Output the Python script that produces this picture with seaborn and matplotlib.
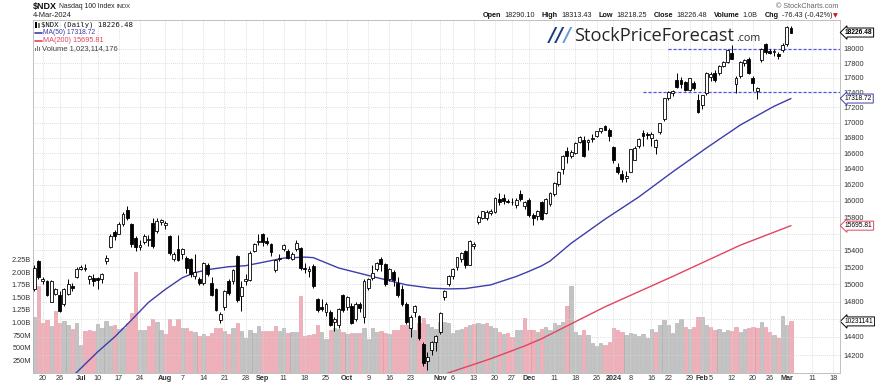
import numpy as np
import pandas as pd
import matplotlib
matplotlib.use("Agg")
import matplotlib.pyplot as plt
import matplotlib.transforms as mtrans
from matplotlib.patches import Rectangle
from matplotlib.lines import Line2D
from matplotlib.ticker import FixedLocator, NullLocator, NullFormatter, FuncFormatter
import seaborn as sns

W, H = 875, 385

# ---------------- data ----------------
holidays = ["2023-06-19", "2023-07-04", "2023-09-04", "2023-11-23",
            "2023-12-25", "2024-01-01", "2024-01-15", "2024-02-19"]

opens = [
    14950, 15270, 15035, 15040, 14800, 14890, 14875, 14775, 14890, 14985,
    15085, 15180, 15180, 15060, 15070, 15070, 15060, 15270, 15435, 15620,
    15600, 15720, 15890, 15714, 15550, 15440, 15495, 15520, 15733, 15630,
    15745, 15700, 15570, 15300, 15415, 15355, 15310, 15300, 15100, 15060,
    15010, 15230, 15020, 14946, 14590, 14740, 15040, 15035, 15335, 14860,
    15035, 15050, 15395, 15495, 15600, 15510, 15474, 15170, 15290, 15415,
    15395, 15300, 15414, 15425, 15190, 15150, 15210, 14831, 14740, 14680,
    14680, 14565, 14530, 14870, 14735, 14755, 14604, 14770, 14620, 14955,
    15070, 15178, 15290, 15235, 15060, 15140, 15010, 14946, 14775, 14500,
    14680, 14640, 14325, 14130, 14255, 14340, 14450, 14855, 15000, 15100,
    15200, 15300, 15390, 15230, 15450, 15735, 15795, 15790, 15850, 15860,
    16020, 16030, 16000, 15990, 15950, 16090, 15940, 16010, 15830, 15810,
    15980, 15855, 15960, 16080, 16205, 16393, 16625, 16560, 16605, 16740,
    16777, 16740, 16780, 16820, 16885, 16955, 16906, 16680, 16420, 16330,
    16282, 16365, 16520, 16690, 16865, 16850, 16800, 16680, 16880, 17040,
    17325, 17390, 17570, 17575, 17540, 17435, 17530, 17300, 17235, 17390,
    17610, 17660, 17660, 17760, 17815, 17940, 17510, 17620, 17800, 17850,
    17590, 17420, 17840, 18060, 17970, 17950, 17920, 17985, 18065, 18290.10,
]
highs = [
    15230, 15285, 15085, 15055, 15050, 14960, 14920, 14960, 15060, 15020,
    15200, 15230, 15240, 15110, 15120, 15090, 15130, 15340, 15590, 15640,
    15740, 15860, 15932, 15730, 15570, 15520, 15600, 15580, 15790, 15790,
    15780, 15750, 15580, 15380, 15580, 15430, 15330, 15310, 15355, 15090,
    15260, 15250, 15080, 14960, 14680, 14930, 15060, 15180, 15340, 15040,
    15120, 15390, 15490, 15590, 15610, 15560, 15490, 15290, 15350, 15480,
    15420, 15380, 15520, 15440, 15250, 15210, 15240, 14840, 14830, 14790,
    14700, 14630, 14730, 14890, 14860, 14780, 14790, 14800, 15060, 15070,
    15230, 15260, 15320, 15245, 15190, 15170, 15080, 14990, 14790, 14650,
    14760, 14650, 14340, 14230, 14350, 14420, 14680, 14930, 15110, 15190,
    15320, 15380, 15400, 15520, 15500, 15830, 15880, 15890, 15900, 16050,
    16100, 16080, 16020, 16030, 16030, 16130, 16000, 16030, 15850, 15890,
    16000, 16030, 16110, 16240, 16370, 16580, 16680, 16640, 16745, 16820,
    16830, 16780, 16850, 16890, 16930, 16970, 16930, 16700, 16480, 16390,
    16380, 16660, 16690, 16800, 16900, 16880, 16870, 16790, 17000, 17330,
    17420, 17440, 17660, 17610, 17560, 17600, 17560, 17380, 17370, 17680,
    17680, 17700, 17780, 17830, 17990, 18050, 17620, 17830, 17860, 17890,
    17620, 17480, 18010, 18080, 18000, 18000, 17960, 18080, 18320, 18313.43,
]
lows = [
    14920, 15060, 15000, 14860, 14790, 14870, 14680, 14750, 14870, 14920,
    15070, 15165, 15150, 15000, 14980, 14940, 15020, 15240, 15425, 15520,
    15590, 15690, 15760, 15440, 15390, 15400, 15480, 15450, 15430, 15610,
    15700, 15660, 15340, 15270, 15270, 15300, 15130, 15080, 15060, 14990,
    14990, 15100, 14860, 14690, 14555, 14700, 14880, 15000, 14800, 14690,
    14990, 15040, 15380, 15460, 15450, 15460, 15330, 15140, 15270, 15390,
    15290, 15280, 15390, 15170, 15130, 15080, 14960, 14680, 14690, 14640,
    14520, 14470, 14500, 14680, 14700, 14540, 14580, 14680, 14560, 14930,
    15050, 15150, 15160, 14980, 15040, 14980, 14850, 14750, 14550, 14400,
    14620, 14370, 14080, 14040, 14200, 14250, 14430, 14820, 14980, 15060,
    15170, 15260, 15190, 15220, 15420, 15720, 15780, 15760, 15830, 15850,
    15950, 15960, 15970, 15950, 15910, 16000, 15900, 15800, 15700, 15760,
    15770, 15840, 15940, 16060, 16180, 16330, 16480, 16540, 16590, 16730,
    16550, 16640, 16740, 16810, 16860, 16900, 16760, 16480, 16330, 16240,
    16230, 16360, 16510, 16670, 16700, 16790, 16700, 16590, 16850, 17020,
    17300, 17350, 17460, 17460, 17420, 17420, 17440, 17130, 17180, 17370,
    17560, 17540, 17640, 17740, 17800, 17850, 17390, 17600, 17760, 17650,
    17420, 17315, 17820, 17930, 17930, 17900, 17850, 17960, 18040, 18218.25,
]
closes = [
    15185, 15090, 15065, 14880, 15040, 14946, 14690, 14946, 15000, 14955,
    15178, 15205, 15195, 15100, 15040, 15055, 15120, 15310, 15573, 15565,
    15720, 15840, 15790, 15474, 15435, 15460, 15573, 15540, 15455, 15750,
    15770, 15730, 15365, 15350, 15280, 15414, 15185, 15120, 15140, 15010,
    15245, 15120, 14870, 14700, 14660, 14920, 14900, 15170, 14820, 14970,
    15065, 15370, 15474, 15510, 15500, 15490, 15375, 15280, 15310, 15466,
    15305, 15355, 15485, 15190, 15180, 15178, 14975, 14700, 14710, 14775,
    14535, 14600, 14717, 14705, 14850, 14560, 14775, 14728, 15040, 15061,
    15130, 15250, 15240, 15000, 15178, 15050, 14870, 14775, 14570, 14620,
    14750, 14390, 14110, 14180, 14340, 14410, 14670, 14925, 15100, 15180,
    15315, 15370, 15220, 15510, 15480, 15805, 15870, 15860, 15880, 16040,
    15990, 16000, 15985, 15980, 16010, 16020, 15985, 15830, 15790, 15870,
    15780, 16020, 16100, 16225, 16360, 16570, 16560, 16620, 16735, 16810,
    16560, 16770, 16800, 16885, 16925, 16905, 16820, 16520, 16360, 16275,
    16310, 16650, 16670, 16790, 16830, 16835, 16850, 16770, 16990, 17320,
    17410, 17425, 17480, 17520, 17440, 17590, 17460, 17145, 17365, 17660,
    17650, 17570, 17760, 17820, 17975, 17860, 17600, 17820, 17845, 17670,
    17530, 17460, 17990, 17950, 17945, 17965, 17900, 18050, 18302.91, 18226.48,
]
# volume in billions of shares
volume_b = [
    1.12, 1.73, 1.00, 1.05, 0.93, 1.23, 1.00, 1.03, 0.95, 0.87,
    0.99, 0.56, 0.83, 0.85, 0.83, 0.97, 0.90, 1.03, 0.94, 0.95,
    0.87, 0.90, 1.00, 1.18, 2.00, 0.85, 0.85, 0.94, 1.07, 1.02,
    0.85, 0.77, 1.07, 0.93, 1.08, 0.89, 0.90, 0.83, 0.82, 0.74,
    0.77, 0.74, 0.79, 0.89, 0.90, 0.83, 0.77, 0.90, 1.00, 0.83,
    0.70, 0.85, 0.79, 0.94, 0.83, 0.83, 0.83, 0.94, 0.83, 0.90,
    0.79, 0.81, 0.81, 1.53, 0.74, 0.75, 0.77, 0.95, 0.81, 0.67,
    0.85, 0.89, 0.87, 0.81, 0.77, 0.79, 0.79, 0.79, 0.89, 0.67,
    0.89, 0.81, 0.83, 0.79, 0.77, 0.85, 0.85, 0.95, 0.95, 0.92,
    0.85, 0.99, 1.10, 0.97, 0.92, 0.87, 1.02, 1.02, 0.99, 0.80,
    0.85, 0.87, 0.92, 0.95, 0.97, 0.99, 0.97, 1.00, 0.93, 0.89,
    0.82, 0.77, 0.79, 0.72, 0.85, 0.85, 1.10, 0.85, 0.85, 0.82,
    0.87, 0.92, 0.85, 0.99, 0.95, 1.02, 1.32, 1.73, 0.82, 0.75,
    0.85, 0.75, 0.59, 0.54, 0.59, 0.56, 0.62, 0.89, 0.85, 0.82,
    0.75, 0.79, 0.77, 0.74, 0.77, 0.69, 0.87, 0.82, 0.95, 1.05,
    0.95, 0.79, 0.99, 1.08, 0.92, 0.87, 0.92, 1.12, 1.12, 0.95,
    0.92, 0.85, 0.87, 0.82, 0.85, 0.84, 0.92, 0.82, 0.87, 0.89,
    0.92, 0.89, 1.02, 0.92, 0.82, 0.75, 0.69, 1.13, 0.95, 1.023,
]
last_volume = 1023114176

ma50_dates = ["2023-06-29", "2023-07-10", "2023-07-14", "2023-07-20", "2023-07-26",
              "2023-08-01", "2023-08-07", "2023-08-10", "2023-08-15", "2023-08-22",
              "2023-08-28", "2023-09-01", "2023-09-11", "2023-09-18", "2023-09-20",
              "2023-09-28", "2023-10-10", "2023-10-20", "2023-10-30", "2023-11-03",
              "2023-11-09", "2023-11-17", "2023-11-28", "2023-12-01", "2023-12-06",
              "2023-12-08", "2023-12-15", "2023-12-28", "2024-01-10", "2024-01-23",
              "2024-02-02", "2024-02-14", "2024-02-27", "2024-03-04"]
ma50_vals = [13965, 14235, 14400, 14590, 14790,
             14940, 15075, 15135, 15170, 15205,
             15217, 15256, 15307, 15318, 15312,
             15190, 15090, 14993, 14954, 14946,
             14950, 14993, 15090, 15150, 15215,
             15271, 15483, 15774, 16048, 16362,
             16668, 16967, 17215, 17318.72]

ma200_dates = ["2023-11-01", "2023-11-17", "2023-11-30", "2023-12-06", "2023-12-28",
               "2024-01-23", "2024-02-14", "2024-03-04"]
ma200_vals = [13975, 14160, 14300, 14380, 14740, 15090, 15460, 15695.81]

# analyst support / resistance lines (level, start date)
levels = [18000, 17400]
level_starts = ["2024-01-22", "2024-01-11"]

tick_dates = ["2023-06-20", "2023-06-26", "2023-07-03", "2023-07-10", "2023-07-17",
              "2023-07-24", "2023-08-01", "2023-08-07", "2023-08-14", "2023-08-21",
              "2023-08-28", "2023-09-01", "2023-09-11", "2023-09-18", "2023-09-25",
              "2023-10-02", "2023-10-09", "2023-10-16", "2023-10-23", "2023-11-01",
              "2023-11-06", "2023-11-13", "2023-11-20", "2023-11-27", "2023-12-01",
              "2023-12-11", "2023-12-18", "2023-12-26", "2024-01-02", "2024-01-08",
              "2024-01-16", "2024-01-22", "2024-01-29", "2024-02-01", "2024-02-05",
              "2024-02-12", "2024-02-20", "2024-02-26", "2024-03-01", "2024-03-11",
              "2024-03-18"]
tick_labels = ["20", "26", "Jul", "10", "17", "24", "Aug", "7", "14", "21",
               "28", "Sep", "11", "18", "25", "Oct", "9", "16", "23", "Nov",
               "6", "13", "20", "27", "Dec", "11", "18", "26", "2024", "8",
               "16", "22", "29", "Feb", "5", "12", "20", "26", "Mar", "11", "18"]
bold_labels = ["Jul", "Aug", "Sep", "Oct", "Nov", "Dec", "2024", "Feb", "Mar"]

price_ticks = list(range(14200, 18001, 200))
hidden_price_ticks = [14600, 15600]
vol_ticks = [0.25, 0.5, 0.75, 1.0, 1.25, 1.5, 1.75, 2.0, 2.25]
vol_tick_labels = ["250M", "500M", "750M", "1.00B", "1.25B", "1.50B", "1.75B", "2.00B", "2.25B"]

# ---------------- styling ----------------
sns.set_style("white")
plt.rcParams["font.family"] = ["Liberation Sans", "DejaVu Sans"]

blue = "#3d3dab"
red = "#e0455f"
grid_c = "#d4d4d4"
XLIM = (-0.3, 190.6)

days = pd.bdate_range("2023-06-15", "2024-03-22")
days = days[~days.isin(pd.to_datetime(holidays))]


def pos(dates):
    return days.get_indexer(pd.to_datetime(dates))


o = np.array(opens, float)
h = np.array(highs, float)
l = np.array(lows, float)
c = np.array(closes, float)
v = np.array(volume_b, float)
x = np.arange(len(c))

fig = plt.figure(figsize=(W / 100, H / 100), dpi=100)
renderer = fig.canvas.get_renderer()
rect = [33 / W, 12 / H, 807 / W, 353 / H]

# volume panel (behind)
axv = fig.add_axes(rect)
down = np.r_[False, c[1:] < c[:-1]]
axv.bar(x, v, width=0.78, color=np.where(down, "#f0b0b9", "#c3c3c3"),
        edgecolor=np.where(down, "#e3929f", "#aaaaaa"), linewidth=0.4)
axv.set_ylim(0, 7.0)
axv.set_xlim(*XLIM)
axv.yaxis.set_major_locator(FixedLocator(vol_ticks))
axv.set_yticklabels(vol_tick_labels)
axv.tick_params(axis="y", labelsize=5.3, length=0, pad=1.5, colors="#333333")
axv.set_xticks([])
axv.tick_params(axis="x", labelbottom=False, length=0)
for s in axv.spines.values():
    s.set_visible(False)

# price panel (front)
ax = fig.add_axes(rect)
ax.patch.set_visible(False)
ax.set_yscale("log")
ax.set_ylim(14004, 18404)
ax.yaxis.set_major_locator(FixedLocator(price_ticks))
ax.yaxis.set_minor_locator(NullLocator())
ax.yaxis.set_minor_formatter(NullFormatter())
ax.yaxis.set_major_formatter(FuncFormatter(
    lambda val, p: "" if round(val) in hidden_price_ticks else f"{val:.0f}"))
ax.yaxis.tick_right()
ax.tick_params(axis="y", labelsize=5.3, length=0, pad=2.5, colors="#333333")

ax.set_xticks(pos(tick_dates))
ax.set_xticklabels(tick_labels)
ax.tick_params(axis="x", labelsize=5.2, length=0, pad=1.5, colors="#333333")
for t in ax.get_xticklabels():
    if t.get_text() in bold_labels:
        t.set_fontweight("bold")

ax.grid(True, which="major", color=grid_c, linestyle=(0, (1, 1.5)), linewidth=0.6, zorder=0)
ax.set_axisbelow(True)
for s in ax.spines.values():
    s.set_color("#b5b5b5")
    s.set_linewidth(0.6)

# support / resistance
for lev, start in zip(levels, level_starts):
    ax.hlines(lev, pos([start])[0], XLIM[1], colors="#5555e6", linestyles=(0, (2.5, 1.5)),
              linewidth=0.9, zorder=2)

# moving averages
sns.lineplot(x=pos(ma50_dates), y=ma50_vals, ax=ax, color=blue, linewidth=1.0,
             estimator=None, sort=False, zorder=3)
sns.lineplot(x=pos(ma200_dates), y=ma200_vals, ax=ax, color=red, linewidth=1.0,
             estimator=None, sort=False, zorder=3)

# candles
up = c >= o
lo_b = np.minimum(o, c)
hi_b = np.maximum(o, c)
ax.vlines(x, l, h, color="black", linewidth=0.7, zorder=4)
ax.bar(x, np.maximum(hi_b - lo_b, hi_b * 0.0003), bottom=lo_b, width=0.68,
       color=np.where(up, "white", "black"), edgecolor="black", linewidth=0.6, zorder=5)
ax.set_xlim(*XLIM)
ax.set_xlabel("")
ax.set_ylabel("")

# right-hand value tags
tag_x = 1.0 + 5 / 807
tr = mtrans.blended_transform_factory(ax.transAxes, ax.transData)
tags = [(c[-1], f"{c[-1]:.2f}", "black", "bold"),
        (ma50_vals[-1], f"{ma50_vals[-1]:.2f}", blue, "normal"),
        (ma200_vals[-1], f"{ma200_vals[-1]:.2f}", red, "normal")]
for val, txt, col, fw in tags:
    ax.text(tag_x, val, txt, transform=tr, fontsize=4.8, fontweight=fw, va="center", ha="left",
            color="black", zorder=10, clip_on=False,
            bbox=dict(boxstyle="larrow,pad=0.15", fc="white", ec=col, lw=0.7))
trv = mtrans.blended_transform_factory(axv.transAxes, axv.transData)
axv.text(tag_x, v[-1], str(last_volume)[:8], transform=trv, fontsize=4.8, va="center",
         ha="left", color="black", zorder=10, clip_on=False,
         bbox=dict(boxstyle="larrow,pad=0.15", fc="white", ec="black", lw=0.7))


# ---------------- header texts ----------------
def fit_text(s, x0, x1, yc, va="center", **kw):
    t = fig.text(x0 / W, 1 - yc / H, s, fontsize=10, va=va, ha="left", **kw)
    w = t.get_window_extent(renderer).width
    t.set_fontsize(10 * (x1 - x0) / w)
    return t


def text_run(pieces, gaps, x0, x1, yc):
    arts = [fig.text(0, 1 - yc / H, s, fontsize=10, va="center", ha="left", **kw)
            for s, kw in pieces]
    w = sum(t.get_window_extent(renderer).width for t in arts)
    size = 10 * (x1 - x0 - sum(gaps)) / w
    xx = x0
    for t, g in zip(arts, gaps + [0]):
        t.set_fontsize(size)
        t.set_x(xx / W)
        xx += t.get_window_extent(renderer).width + g


fit_text("$NDX", 33, 57, 6, fontweight="bold", color="#111111")
nas = fit_text("Nasdaq 100 Index", 59, 115, 6.5, color="#222222")
fig.text(117 / W, 1 - 6.5 / H, "INDX", fontsize=nas.get_fontsize() * 0.85, va="center",
         ha="left", color="#222222")
fit_text("4-Mar-2024", 33, 72, 15.5, color="#222222")
fit_text("\u00a9 StockCharts.com", 776, 839, 6, color="#666666")

chg = c[-1] - c[-2]
pct = chg / c[-2] * 100
B = dict(fontweight="bold", color="#111111")
N = dict(color="#222222")
run = [("Open", B), (f"{o[-1]:.2f}", N), ("High", B), (f"{h[-1]:.2f}", N),
       ("Low", B), (f"{l[-1]:.2f}", N), ("Close", B), (f"{c[-1]:.2f}", N),
       ("Volume", B), (f"{v[-1]:.1f}B", N), ("Chg", B), (f"{chg:.2f} ({pct:.2f}%)", N)]
text_run(run, [3, 7] * 5 + [3], 483, 829, 15.5)
fig.text(833 / W, 1 - 16 / H, "\u25bc", fontsize=4.5, color="#cc1122", va="center", ha="left",
         family=["DejaVu Sans"])

# legend block inside the chart
fig.add_artist(Rectangle((35 / W, 1 - 28 / H), 1.6 / W, 6 / H, transform=fig.transFigure,
                         fc="black", ec="none"))
fig.add_artist(Rectangle((37.6 / W, 1 - 27 / H), 1.6 / W, 4 / H, transform=fig.transFigure,
                         fc="white", ec="black", lw=0.4))
fit_text(f"$NDX (Daily) {c[-1]:.2f}", 41, 133, 25, family=["DejaVu Sans Mono"], color="#111111")
for yc, col, txt, x1 in [(33, blue, f"MA(50) {ma50_vals[-1]:.2f}", 95),
                         (41, red, f"MA(200) {ma200_vals[-1]:.2f}", 103)]:
    fig.add_artist(Line2D([35 / W, 42 / W], [1 - yc / H, 1 - yc / H], color=col, lw=1.2,
                          transform=fig.transFigure))
    fit_text(txt, 42.7, x1, yc, color=col)
for i, hh in enumerate([3, 5, 4]):
    fig.add_artist(Rectangle(((35 + i * 1.8) / W, 1 - 51 / H), 1.3 / W, hh / H,
                             transform=fig.transFigure, fc="#777777", ec="none"))
fit_text(f"Volume {last_volume:,}", 41.7, 118, 48.5, color="#444444")

# watermark logo
main = fit_text("StockPriceForecast", 574, 734, 41, va="baseline", color="#262626",
                family=["Open Sans", "Liberation Sans"])
fit_text(".com", 736, 760, 41, va="baseline", color="#262626",
         family=["Open Sans", "Liberation Sans"])
for i, col in enumerate(["#1d3c78", "#1d3c78", "#6a9bd6"]):
    fig.text((549 + i * 7.2) / W, 1 - 41 / H, "/", fontsize=main.get_fontsize() * 1.05,
             fontweight="bold", fontstyle="italic", color=col, va="baseline", ha="left",
             family=["DejaVu Sans"])

fig.savefig("out.png", dpi=100)
